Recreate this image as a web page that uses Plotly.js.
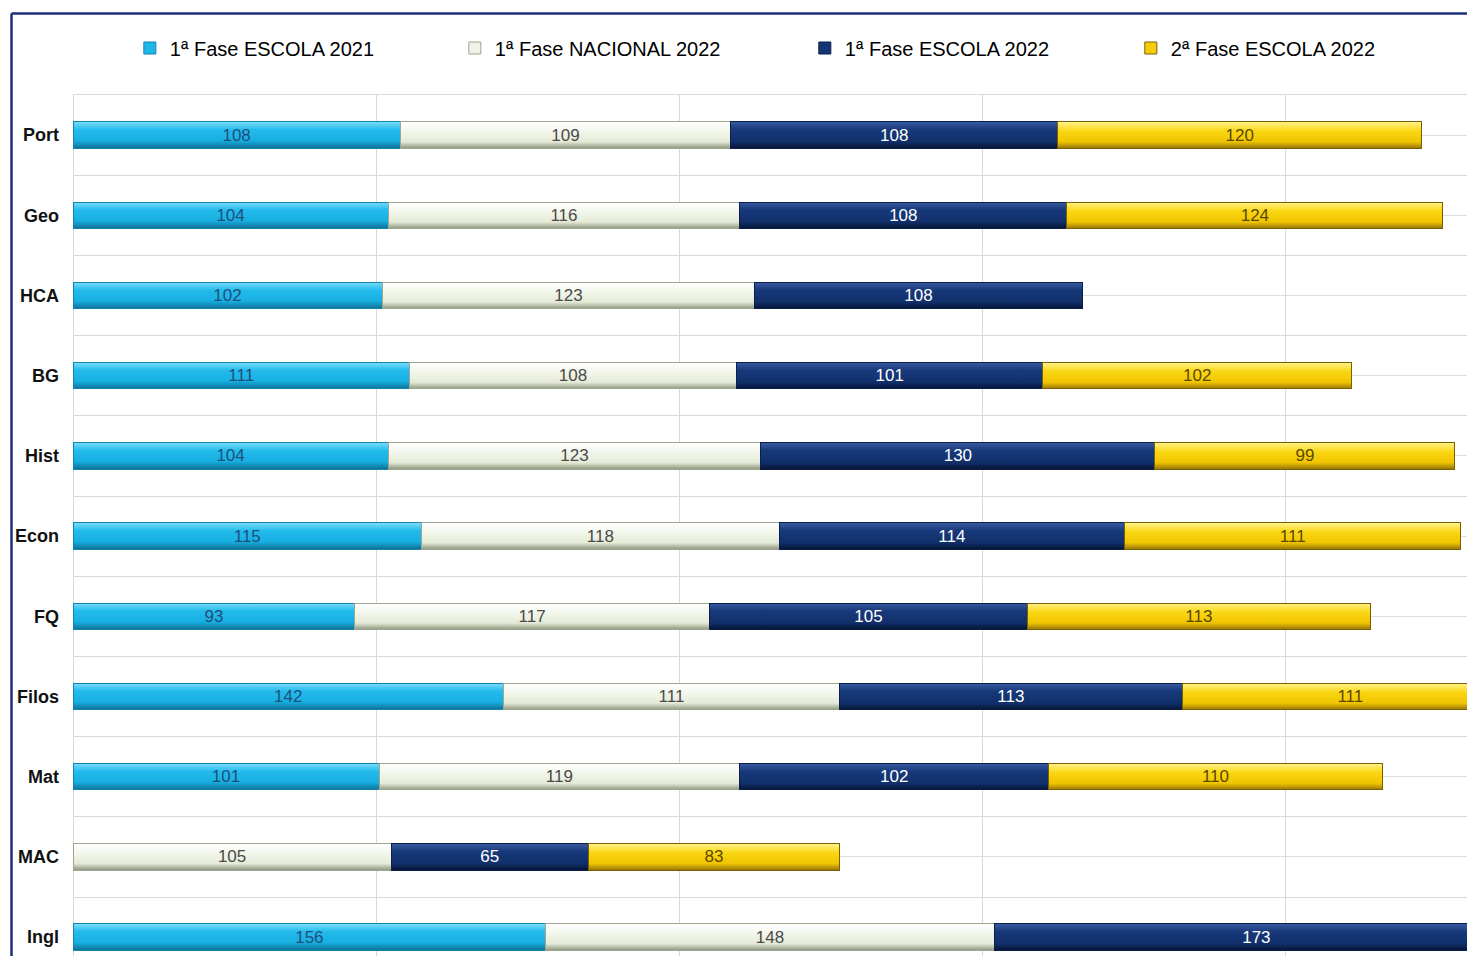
<!DOCTYPE html>
<html>
<head>
<meta charset="utf-8">
<script src="https://cdn.plot.ly/plotly-3.0.1.min.js"></script>
<style>
  html, body { margin: 0; padding: 0; background: #ffffff; }
  #chart { width: 1467px; height: 956px; }
  .barlayer .trace:nth-child(1) .point path { fill: url(#gCyan) !important; }
  .barlayer .trace:nth-child(2) .point path { fill: url(#gWhite) !important; }
  .barlayer .trace:nth-child(3) .point path { fill: url(#gNavy) !important; }
  .barlayer .trace:nth-child(4) .point path { fill: url(#gYellow) !important; }
</style>
</head>
<body>
<svg width="0" height="0" style="position:absolute">
  <defs>
    <linearGradient id="gCyan" x1="0" y1="0" x2="0" y2="1">
      <stop offset="0" stop-color="#7adcf8"/>
      <stop offset="0.3" stop-color="#22bbec"/>
      <stop offset="0.7" stop-color="#18b0e2"/>
      <stop offset="1" stop-color="#0e7196"/>
    </linearGradient>
    <linearGradient id="gWhite" x1="0" y1="0" x2="0" y2="1">
      <stop offset="0" stop-color="#ffffff"/>
      <stop offset="0.35" stop-color="#f3f7ec"/>
      <stop offset="0.75" stop-color="#e4ead6"/>
      <stop offset="1" stop-color="#8f9780"/>
    </linearGradient>
    <linearGradient id="gNavy" x1="0" y1="0" x2="0" y2="1">
      <stop offset="0" stop-color="#3a5aa0"/>
      <stop offset="0.3" stop-color="#17397a"/>
      <stop offset="0.75" stop-color="#112f6a"/>
      <stop offset="1" stop-color="#061434"/>
    </linearGradient>
    <linearGradient id="gYellow" x1="0" y1="0" x2="0" y2="1">
      <stop offset="0" stop-color="#fff38a"/>
      <stop offset="0.35" stop-color="#fad612"/>
      <stop offset="0.75" stop-color="#f0c400"/>
      <stop offset="1" stop-color="#96760a"/>
    </linearGradient>
  </defs>
</svg>
<div id="chart"></div>
<script>
// ---- data ----
const categories = ["Port", "Geo", "HCA", "BG", "Hist", "Econ", "FQ", "Filos", "Mat", "MAC", "Ingl"];
const seriesNames = ["1ª Fase ESCOLA 2021", "1ª Fase NACIONAL 2022", "1ª Fase ESCOLA 2022", "2ª Fase ESCOLA 2022"];
const escola2021   = [108, 104, 102, 111, 104, 115,  93, 142, 101, null, 156];
const nacional2022 = [109, 116, 123, 108, 123, 118, 117, 111, 119, 105, 148];
const escola2022   = [108, 108, 108, 101, 130, 114, 105, 113, 102,  65, 173];
const fase2Escola2022 = [120, 124, null, 102, 99, 111, 113, 111, 110, 83, null];

// ---- styling ----
const FONT = "'Liberation Sans', Arial, sans-serif";
const yIdx = categories.map((_, i) => i);
const seriesValues = [escola2021, nacional2022, escola2022, fase2Escola2022];
const fills = ["#1cb6e8", "#eff4e6", "#143574", "#f6cd0c"];
const edges = ["#1384b0", "#9ea590", "#0b1f4c", "#7a6005"];
const textColors = ["#1f4f7a", "#4a4a4a", "#ffffff", "#5a4800"];
const legendWidths = [280, 305, 281, 260];

const traces = seriesValues.map((vals, k) => ({
  type: "bar",
  orientation: "h",
  name: seriesNames[k],
  x: vals,
  y: yIdx,
  width: 0.33,
  marker: { color: fills[k], line: { color: edges[k], width: 1 } },
  text: vals.map(v => v === null ? "" : String(v)),
  textposition: "inside",
  insidetextanchor: "middle",
  textangle: 0,
  constraintext: "none",
  insidetextfont: { family: FONT, size: 17, color: textColors[k] },
  legendwidth: legendWidths[k],
  hoverinfo: "x+name"
}));

// plot area in pixels: x 73..1467, y 95..956
const PL = 73, PT = 95, W = 1467, H = 956;
const pw = W - PL, ph = H - PT;
const bx = (11.5 - PL) / pw;
const by = (H - 13.5) / ph;
const band = 80.2;

const layout = {
  width: W,
  height: H,
  margin: { l: PL, r: 0, t: PT, b: 0, pad: 0 },
  paper_bgcolor: "#ffffff",
  plot_bgcolor: "#ffffff",
  barmode: "stack",
  showlegend: true,
  legend: {
    orientation: "h",
    xref: "container", yref: "container",
    x: 0.0885, y: 1 - 48 / H,
    xanchor: "left", yanchor: "middle",
    font: { family: FONT, size: 20, color: "#000000" },
    traceorder: "normal",
    bgcolor: "rgba(0,0,0,0)",
    itemclick: false
  },
  xaxis: {
    range: [0, 460],
    dtick: 100,
    tick0: 0,
    showgrid: true,
    gridcolor: "#d9d9d9",
    gridwidth: 1,
    zeroline: true,
    zerolinecolor: "#d9d9d9",
    zerolinewidth: 1,
    showticklabels: false,
    ticks: "",
    side: "top",
    showline: true,
    linecolor: "#d9d9d9",
    linewidth: 1,
    fixedrange: true
  },
  yaxis: {
    range: [-0.5 + ph / band, -0.5],
    tickmode: "array",
    tickvals: yIdx,
    ticktext: categories,
    showgrid: true,
    gridcolor: "#dedede",
    gridwidth: 1,
    zeroline: false,
    ticks: "",
    ticklabelstandoff: 13,
    tickfont: { family: FONT, size: 18, color: "#111111", weight: "bold" },
    minor: { tickmode: "linear", tick0: 0.5, dtick: 1, showgrid: true, gridcolor: "#d9d9d9", gridwidth: 1, ticks: "" },
    fixedrange: true
  },
  shapes: [
    { type: "line", xref: "paper", yref: "paper", x0: bx, x1: bx, y0: by, y1: -0.02,
      line: { color: "#1c2f78", width: 2.5 } },
    { type: "line", xref: "paper", yref: "paper", x0: bx, x1: 1.02, y0: by, y1: by,
      line: { color: "#1c2f78", width: 2.5 } }
  ]
};

Plotly.newPlot("chart", traces, layout, { displayModeBar: false, staticPlot: true });
</script>
</body>
</html>
